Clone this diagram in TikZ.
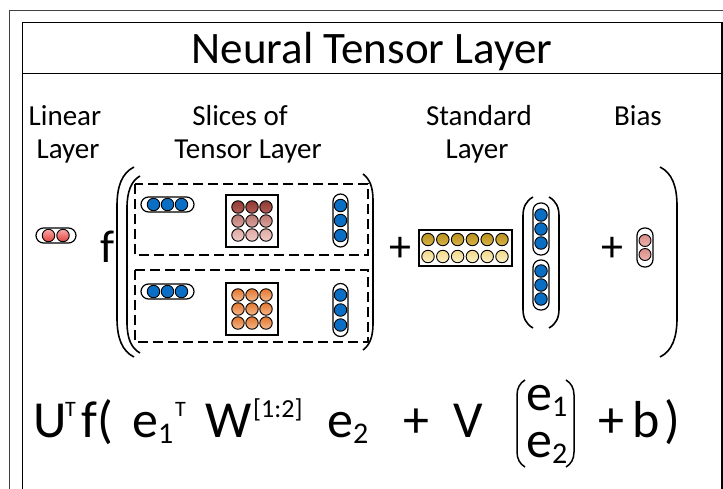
\documentclass[tikz,border=0pt]{standalone}
\usepackage{fontspec}
\setmainfont{Carlito}
\definecolor{blueC}{HTML}{0A6FC4}
\definecolor{redT}{HTML}{F6A8A8}
\definecolor{redB}{HTML}{E4403C}
\definecolor{tAt}{HTML}{8E3B33}
\definecolor{tAb}{HTML}{B35D55}
\definecolor{tBt}{HTML}{BC7A73}
\definecolor{tBb}{HTML}{D9A39D}
\definecolor{tCt}{HTML}{DEA9A3}
\definecolor{tCb}{HTML}{F0CBC7}
\definecolor{orT}{HTML}{E2772E}
\definecolor{orB}{HTML}{F5B88C}
\definecolor{goT}{HTML}{B8901C}
\definecolor{goB}{HTML}{D9B448}
\definecolor{paT}{HTML}{F2D98A}
\definecolor{paB}{HTML}{FBEFC6}
\definecolor{biT}{HTML}{D88C86}
\definecolor{biB}{HTML}{EDB3AE}
\definecolor{frameGray}{HTML}{404040}
\tikzset{
  pill/.style={draw=black, line width=1.2pt, fill=white, rounded corners=7.5pt, inner sep=0pt, rectangle},
  mbox/.style={draw=black, line width=1.2pt, fill=white, inner sep=0pt, rectangle},
  dot/.style={circle, draw=black, line width=0.9pt, minimum size=12.5pt, inner sep=0pt},
  bdot/.style={dot, fill=blueC},
  rdot/.style={dot, top color=redT, bottom color=redB},
  adot/.style={dot, top color=tAt, bottom color=tAb},
  bbdot/.style={dot, top color=tBt, bottom color=tBb},
  cdot/.style={dot, top color=tCt, bottom color=tCb},
  odot/.style={dot, top color=orT, bottom color=orB},
  gdot/.style={dot, top color=goT, bottom color=goB},
  pdot/.style={dot, top color=paT, bottom color=paB},
  bidot/.style={dot, top color=biT, bottom color=biB, minimum size=12pt},
  dbox/.style={draw=black, line width=1.5pt, dash pattern=on 10pt off 5pt},
  paren/.style={draw=black, line width=1.6pt},
  lbl/.style={font=\fontsize{29}{29}\selectfont, anchor=base, inner sep=0pt},
  fml/.style={font=\fontsize{52}{52}\selectfont, anchor=base west, inner sep=0pt},
  supf/.style={font=\fontsize{22}{22}\selectfont, anchor=base west, inner sep=0pt},
  idxf/.style={font=\fontsize{26}{26}\selectfont, anchor=base west, inner sep=0pt},
  subf/.style={font=\fontsize{30}{30}\selectfont, anchor=base west, inner sep=0pt},
  plusf/.style={font=\fontsize{44}{44}\selectfont, inner sep=0pt},
}
\begin{document}
\begin{tikzpicture}[x=1pt,y=-1pt]
\useasboundingbox (0,0) rectangle (723,488);
\fill[white] (0,0) rectangle (723,488);
% frames
\draw[frameGray, line width=0.9pt] (9.5,492) -- (9.5,10.5) -- (726,10.5);
\draw[black, line width=1.8pt] (22.5,492) -- (22.5,22.5) -- (721.6,22.5) -- (721.6,492);
\draw[black, line width=1.5pt] (22.5,73.5) -- (721.6,73.5);
% title
\node[font=\fontsize{45}{45}\selectfont, anchor=base, inner sep=0pt] (title) at (372,63) {Neural Tensor Layer};
% labels
\node[lbl] (l1a) at (65,125) {Linear};
\node[lbl] (l1b) at (68,158) {Layer};
\node[lbl] (l2a) at (240,125) {Slices of};
\node[lbl] (l2b) at (248,158) {Tensor Layer};
\node[lbl] (l3a) at (479,125) {Standard};
\node[lbl] (l3b) at (477,158) {Layer};
\node[lbl] (l4a) at (638,125) {Bias};
% linear layer
\node[pill, minimum width=40pt, minimum height=15pt] (linp) at (56,235.5) {};
\node[rdot] (lin1) at (48.5,235.5) {};
\node[rdot] (lin2) at (63,235.5) {};
% f
\node[font=\fontsize{46}{46}\selectfont, anchor=base, inner sep=0pt] (fbig) at (108,262) {f};
% big parentheses
\draw[paren] (134,167) .. controls (122,173) and (117,186) .. (117,206) -- (117,318) .. controls (117,338) and (122,351) .. (134,357);
\draw[paren] (140,176) .. controls (131,181) and (127,192) .. (127,208) -- (127,322) .. controls (127,338) and (131,348) .. (140,353);
\draw[paren] (363,174) .. controls (370,179) and (373,188) .. (373,200) -- (373,324) .. controls (373,336) and (370,345) .. (363,350);
\draw[paren] (660,167) .. controls (672,173) and (677,186) .. (677,206) -- (677,318) .. controls (677,338) and (672,351) .. (660,357);
% dashed slices
\draw[dbox] (135,184) rectangle (368,255);
\draw[dbox] (135,270) rectangle (368,342);
% slice 1
\node[pill, minimum width=53pt, minimum height=15pt] (s1p) at (167.5,204.5) {};
\foreach \i/\x in {1/153.5,2/167.5,3/181.5} \node[bdot] (s1e\i) at (\x,204.5) {};
\node[mbox, minimum width=52pt, minimum height=52pt] (s1m) at (252,221) {};
\foreach \c/\x in {1/238,2/252,3/266} {
  \node[adot] (s1ma\c) at (\x,207) {};
  \node[bbdot] (s1mb\c) at (\x,221) {};
  \node[cdot] (s1mc\c) at (\x,235) {};
}
\node[pill, minimum width=15pt, minimum height=53pt] (s1v) at (340.5,220.5) {};
\foreach \i/\y in {1/205.5,2/220.5,3/235.5} \node[bdot] (s1f\i) at (340.5,\y) {};
% slice 2
\node[pill, minimum width=53pt, minimum height=15pt] (s2p) at (167.5,291.5) {};
\foreach \i/\x in {1/153.5,2/167.5,3/181.5} \node[bdot] (s2e\i) at (\x,291.5) {};
\node[mbox, minimum width=52pt, minimum height=52pt] (s2m) at (252,309) {};
\foreach \c/\x in {1/238,2/252,3/266} {
  \node[odot] (s2ma\c) at (\x,295) {};
  \node[odot] (s2mb\c) at (\x,309) {};
  \node[odot] (s2mc\c) at (\x,323) {};
}
\node[pill, minimum width=15pt, minimum height=53pt] (s2v) at (340.5,310) {};
\foreach \i/\y in {1/295,2/310,3/325} \node[bdot] (s2f\i) at (340.5,\y) {};
% plus 1
\node[plusf] (plus1) at (400,249) {+};
% standard layer
\node[mbox, minimum width=93pt, minimum height=36pt] (stdm) at (465.5,248) {};
\foreach \i/\x in {1/428,2/442.8,3/457.6,4/472.4,5/487.2,6/502} {
  \node[gdot] (sa\i) at (\x,239.5) {};
  \node[pdot] (sb\i) at (\x,256.5) {};
}
% stacked vector
\draw[paren] (533,197) .. controls (526,201) and (523,207) .. (523,216) -- (523,309) .. controls (523,318) and (526,324) .. (533,328);
\draw[paren] (549,197) .. controls (556,201) and (559,207) .. (559,216) -- (559,309) .. controls (559,318) and (556,324) .. (549,328);
\node[pill, minimum width=16pt, minimum height=52pt] (vp1) at (541,229) {};
\foreach \i/\y in {1/215,2/229,3/243} \node[bdot] (v1e\i) at (541,\y) {};
\node[pill, minimum width=16pt, minimum height=50pt] (vp2) at (541,285) {};
\foreach \i/\y in {1/271,2/285,3/299} \node[bdot] (v2e\i) at (541,\y) {};
% plus 2
\node[plusf] (plus2) at (612,249) {+};
% bias
\node[pill, minimum width=16pt, minimum height=39pt] (bip) at (645,247.5) {};
\node[bidot] (bi1) at (645,240.5) {};
\node[bidot] (bi2) at (645,254.5) {};
% formula
\node[fml] (fU) at (33,437) {U};
\node[supf] (fT1) at (65,416) {T};
\node[fml] (ff) at (81,437) {f(};
\node[fml] (fe1) at (132,437) {e};
\node[subf] (fs1) at (158,443) {1};
\node[supf] (fT2) at (175,416) {T};
\node[fml] (fW) at (205,437) {W};
\node[idxf] (fidx) at (253,417) {[1:2]};
\node[fml] (fe2) at (327,437) {e};
\node[subf] (fs2) at (353,443) {2};
\node[fml] (fplus) at (403,437) {+};
\node[fml] (fV) at (453,437) {V};
\draw[paren, line width=1.5pt] (525,380) .. controls (520,383) and (517,388) .. (517,395) -- (517,452) .. controls (517,459) and (520,464) .. (525,467);
\draw[paren, line width=1.5pt] (566,380) .. controls (571,383) and (574,388) .. (574,395) -- (574,452) .. controls (574,459) and (571,464) .. (566,467);
\node[fml] (pe1) at (526,410) {e};
\node[subf] (ps1) at (552,416) {1};
\node[fml] (pe2) at (526,457) {e};
\node[subf] (ps2) at (552,463) {2};
\node[fml] (fpb) at (598,437) {+\,b};
\node[fml] (fclose) at (664,437) {)};
\end{tikzpicture}
\end{document}
